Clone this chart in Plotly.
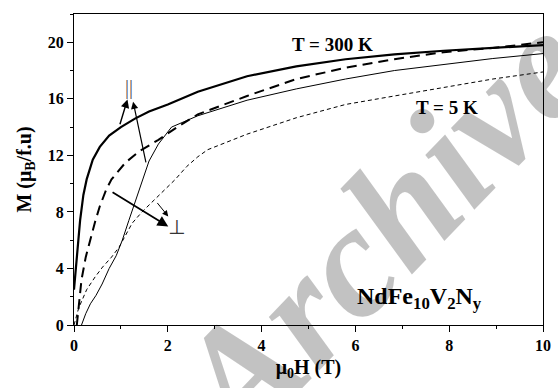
import plotly.graph_objects as go

# ---- data ----
x_300_par = [0, 0.05, 0.13, 0.2, 0.27, 0.4, 0.55, 0.75, 1.0, 1.3, 1.6, 2.0, 2.64, 3.69, 4.74, 5.79, 6.83, 7.88, 8.93, 10.0]
y_300_par = [2.5, 4.6, 7.4, 9.2, 10.3, 11.7, 12.6, 13.4, 14.0, 14.6, 15.1, 15.6, 16.5, 17.6, 18.3, 18.8, 19.15, 19.4, 19.6, 19.8]

x_300_perp = [0.06, 0.1, 0.16, 0.25, 0.34, 0.45, 0.55, 0.69, 0.8, 1.1, 1.4, 1.8, 2.2, 2.64, 3.69, 4.74, 5.79, 6.83, 7.88, 8.93, 10.0]
y_300_perp = [0, 1.5, 3.2, 4.8, 6.0, 7.3, 8.4, 9.6, 10.3, 11.5, 12.3, 13.1, 14.0, 14.9, 16.2, 17.4, 18.2, 18.8, 19.3, 19.6, 20.0]

x_5_par = [0.16, 0.25, 0.35, 0.47, 0.6, 0.75, 0.9, 1.03, 1.17, 1.3, 1.45, 1.6, 1.8, 2.08, 2.64, 3.69, 4.74, 5.79, 6.83, 7.88, 8.93, 10.0]
y_5_par = [0, 0.8, 1.5, 2.1, 2.9, 4.0, 4.9, 6.0, 7.4, 8.7, 10.2, 11.6, 12.8, 14.0, 14.8, 15.9, 16.7, 17.4, 18.0, 18.45, 18.85, 19.2]

x_5_perp = [0, 0.1, 0.27, 0.45, 0.61, 0.8, 0.96, 1.24, 1.45, 1.66, 1.95, 2.16, 2.4, 2.64, 2.85, 3.69, 4.74, 5.79, 6.83, 7.88, 8.93, 10.0]
y_5_perp = [0, 1.2, 2.5, 3.4, 4.1, 4.8, 5.5, 7.2, 8.0, 8.7, 9.6, 10.3, 11.2, 11.9, 12.4, 13.5, 14.66, 15.6, 16.2, 16.8, 17.4, 17.9]

x_ticks = [0, 2, 4, 6, 8, 10]
y_ticks = [0, 4, 8, 12, 16, 20]

SERIF = "Liberation Serif"

fig = go.Figure()
fig.add_trace(go.Scatter(x=x_300_par, y=y_300_par, mode="lines",
                         line=dict(color="black", width=2.2), showlegend=False))
fig.add_trace(go.Scatter(x=x_300_perp, y=y_300_perp, mode="lines",
                         line=dict(color="black", width=2, dash="10px,6px"), showlegend=False))
fig.add_trace(go.Scatter(x=x_5_par, y=y_5_par, mode="lines",
                         line=dict(color="black", width=1), showlegend=False))
fig.add_trace(go.Scatter(x=x_5_perp, y=y_5_perp, mode="lines",
                         line=dict(color="black", width=1, dash="4px,3px"), showlegend=False))

axis_common = dict(showgrid=False, zeroline=False, showline=True, linecolor="black",
                   linewidth=1.2, mirror=True, ticks="outside", ticklen=6, tickwidth=1,
                   tickcolor="black", ticklabeloverflow="allow",
                   tickfont=dict(family=SERIF, size=16, color="black", weight="bold"))

fig.update_xaxes(range=[0, 10], tickvals=x_ticks,
                 minor=dict(dtick=1, tick0=0, ticks="outside", ticklen=3, tickcolor="black"),
                 title=dict(text="μ<sub>0</sub>H (T)", standoff=6,
                            font=dict(family=SERIF, size=20, color="black", weight="bold")),
                 **axis_common)
fig.update_yaxes(range=[0, 22], tickvals=y_ticks,
                 minor=dict(dtick=2, tick0=0, ticks="outside", ticklen=3, tickcolor="black"),
                 title=dict(text="M (μ<sub>B</sub>/f.u)", standoff=10,
                            font=dict(family=SERIF, size=20, color="black", weight="bold")),
                 **axis_common)

# watermark: translucent black reads as light grey on white, black lines stay black
fig.add_annotation(xref="paper", yref="paper", x=0.652, y=0.305, text="Archive",
                   showarrow=False, textangle=-46, xanchor="center", yanchor="middle",
                   font=dict(family=SERIF, size=160, color="rgba(0,0,0,0.24)",
                             weight="bold", style="italic"))

annots = [
    dict(x=5.51, y=19.86, text="T = 300 K", size=19),
    dict(x=7.95, y=15.4, text="T = 5 K", size=19),
    dict(x=7.36, y=1.9, text="NdFe<sub>10</sub>V<sub>2</sub>N<sub>y</sub>", size=24),
]
for a in annots:
    fig.add_annotation(x=a["x"], y=a["y"], text=a["text"], showarrow=False,
                       xanchor="center", yanchor="middle",
                       font=dict(family=SERIF, size=a["size"], color="black", weight="bold"))

fig.add_annotation(x=1.17, y=16.8, text="||", showarrow=False, opacity=0.99,
                   font=dict(family=SERIF, size=20, color="#555555"))
fig.add_annotation(x=2.19, y=6.9, text="⊥", showarrow=False, opacity=0.99,
                   font=dict(family="DejaVu Sans", size=20, color="#333333"))

arrows = [
    (0.97, 14.1, 1.14, 15.96, 1.4),
    (1.54, 11.4, 1.26, 15.8, 1.2),
    (0.79, 9.45, 2.01, 6.97, 1.8),
    (1.75, 8.74, 2.01, 7.68, 1.0),
]
for tx, ty, hx, hy, w in arrows:
    fig.add_annotation(x=hx, y=hy, ax=tx, ay=ty, xref="x", yref="y", axref="x", ayref="y",
                       text="", showarrow=True, arrowhead=2, arrowsize=1.2, arrowwidth=w,
                       arrowcolor="black")

fig.update_layout(width=558, height=388, margin=dict(l=74, r=7, t=14, b=63),
                  paper_bgcolor="white", plot_bgcolor="white", showlegend=False)

fig.write_html("out.html")
